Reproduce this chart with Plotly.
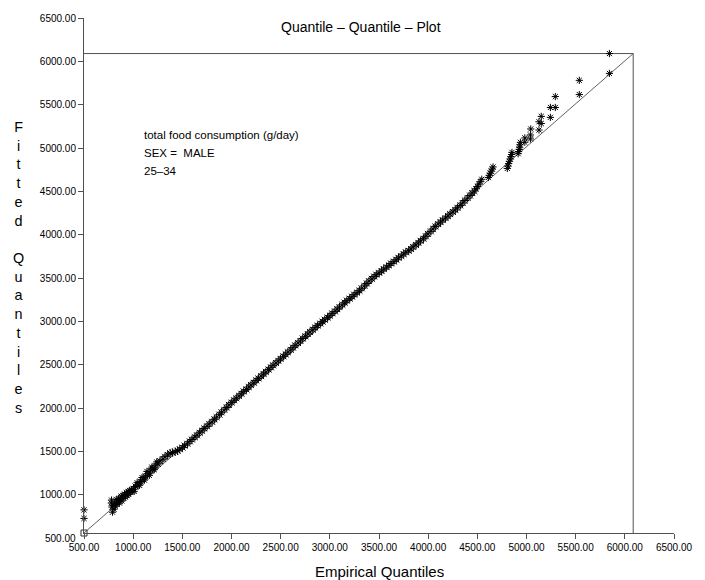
import plotly.graph_objects as go

# Empirical quantiles (x) and fitted quantiles (y), total food consumption in g/day.
# Lowest observations, sparse and scattered around the reference line
low_emp = [500, 500, 778, 780, 784, 790, 795, 805, 812, 820, 828, 835, 845, 852,
           860, 870, 878, 885, 895, 905, 912, 920, 930, 940, 948, 955, 965, 975,
           985, 992, 1010, 1040, 1065, 1090, 1115, 1140, 1165, 1190, 1215, 1240]
low_fit = [827, 728, 905, 940, 860, 800, 880, 835, 905, 870, 945, 890, 925, 960,
           905, 950, 985, 930, 990, 960, 1010, 975, 1025, 990, 1040, 1005, 1050, 1030,
           1062, 1045, 1040, 1140, 1110, 1200, 1170, 1270, 1225, 1320, 1290, 1380]

# Central body of the distribution
body_emp = [1003, 1024, 1051, 1074, 1102, 1125, 1148, 1176, 1199, 1226, 1251, 1273,
            1302, 1324, 1351, 1376, 1399, 1427, 1452, 1474, 1501, 1523, 1552, 1576,
            1598, 1627, 1649, 1676, 1701, 1723, 1752, 1774, 1803, 1826, 1849, 1877,
            1898, 1926, 1951, 1973, 2002, 2026, 2049, 2077, 2101, 2124, 2152, 2175,
            2198, 2227, 2251, 2274, 2302, 2326, 2349, 2377, 2401, 2423, 2452, 2476,
            2499, 2528, 2551, 2573, 2602, 2626, 2648, 2677, 2701, 2724, 2752, 2776,
            2798, 2827, 2851, 2874, 2903, 2926, 2948, 2977, 3001, 3024, 3052, 3076,
            3098, 3127, 3151, 3173, 3202, 3226, 3248, 3277, 3301, 3324, 3352, 3376,
            3398, 3427, 3451, 3473, 3502, 3526, 3548, 3577, 3601, 3623, 3652, 3676,
            3698, 3727, 3751, 3773, 3802, 3826, 3848, 3877, 3901, 3923, 3952, 3976,
            3998, 4027, 4051, 4073, 4102, 4126, 4148, 4177, 4201, 4223, 4252, 4276,
            4298, 4327, 4351, 4373, 4402, 4426, 4448, 4470]
body_fit = [1065, 1096, 1118, 1153, 1180, 1214, 1242, 1276, 1302, 1334, 1358, 1389,
            1412, 1440, 1461, 1481, 1488, 1497, 1509, 1526, 1545, 1567, 1589, 1617,
            1638, 1665, 1687, 1716, 1739, 1766, 1790, 1818, 1842, 1871, 1896, 1925,
            1952, 1981, 2008, 2038, 2064, 2091, 2114, 2142, 2166, 2193, 2216, 2244,
            2268, 2293, 2320, 2343, 2369, 2395, 2418, 2445, 2471, 2494, 2521, 2546,
            2569, 2597, 2621, 2645, 2672, 2698, 2724, 2751, 2775, 2803, 2828, 2855,
            2879, 2905, 2929, 2952, 2975, 2998, 3020, 3044, 3067, 3093, 3116, 3142,
            3166, 3192, 3216, 3240, 3263, 3286, 3309, 3332, 3355, 3382, 3410, 3438,
            3465, 3492, 3518, 3540, 3561, 3582, 3604, 3626, 3647, 3669, 3690, 3712,
            3734, 3755, 3777, 3798, 3815, 3836, 3859, 3882, 3906, 3930, 3954, 3982,
            4010, 4039, 4067, 4096, 4123, 4146, 4169, 4192, 4215, 4239, 4263, 4286,
            4311, 4338, 4366, 4395, 4423, 4452, 4481, 4505]

# Upper tail
tail_emp = [4485, 4500, 4515, 4530, 4545, 4612, 4622, 4632, 4642, 4652, 4660,
            4805, 4812, 4818, 4826, 4834, 4842, 4848, 4852, 4915, 4920, 4926, 4930,
            4934, 4938, 4983, 4983, 5040, 5040, 5043, 5127, 5127, 5150, 5150, 5243,
            5243, 5293, 5293, 5537, 5537, 5843, 5843]
tail_fit = [4530, 4556, 4584, 4612, 4640, 4660, 4686, 4710, 4734, 4758, 4782,
            4765, 4792, 4820, 4848, 4874, 4900, 4926, 4950, 4935, 4960, 4985, 5010,
            5038, 5066, 5067, 5117, 5105, 5151, 5220, 5208, 5303, 5283, 5365, 5354,
            5468, 5468, 5594, 5617, 5781, 5861, 6090]

# Reference diagonal and bounding lines of the quantile range
diag_x = [500, 6085]
diag_y = [560, 6090]
bound_x = [500, 6085, 6085]
bound_y = [6090, 6090, 560]
origin_x = [500]
origin_y = [560]

x_ticks = [500, 1000, 1500, 2000, 2500, 3000, 3500, 4000, 4500, 5000, 5500, 6000, 6500]
y_ticks = [1000, 1500, 2000, 2500, 3000, 3500, 4000, 4500, 5000, 5500, 6000, 6500]
x_range = [500, 6500]
y_range = [560, 6500]

info_lines = ["total food consumption (g/day)", "SEX =  MALE", "25\u201334"]

FONT = "Liberation Sans, Arial, Helvetica, sans-serif"
LINE_COL = "#505050"

fig = go.Figure()

fig.add_trace(go.Scatter(x=diag_x, y=diag_y, mode="lines",
                         line=dict(color="#606060", width=1), hoverinfo="skip",
                         showlegend=False))
fig.add_trace(go.Scatter(x=bound_x, y=bound_y, mode="lines",
                         line=dict(color=LINE_COL, width=1), hoverinfo="skip",
                         showlegend=False, cliponaxis=False))
fig.add_trace(go.Scatter(x=origin_x, y=origin_y, mode="markers",
                         marker=dict(symbol="square-open", size=6, color="#303030",
                                     line=dict(color="#303030", width=1)),
                         showlegend=False, cliponaxis=False))

# sparse tails use slightly smaller stars than the dense central band
star = dict(symbol="asterisk-open", color="black", line=dict(color="black", width=1))
for xs, ys, sz in ((low_emp, low_fit, 6), (body_emp, body_fit, 7), (tail_emp, tail_fit, 6)):
    fig.add_trace(go.Scatter(x=xs, y=ys, mode="markers",
                             marker=dict(size=sz, **star),
                             showlegend=False, cliponaxis=False))

axis_common = dict(showline=True, linecolor=LINE_COL, linewidth=1,
                   ticks="outside", ticklen=5, tickcolor=LINE_COL, tickwidth=1,
                   showgrid=False, zeroline=False, tickformat=".2f",
                   tickfont=dict(family=FONT, size=10, color="black"))

fig.update_xaxes(range=x_range, tickvals=x_ticks, **axis_common)
fig.update_yaxes(range=y_range, tickvals=y_ticks, **axis_common)

# plot area spans 84..684 px horizontally and 15..533 px vertically
plot_h = 580 - 15 - 47
annotations = [
    dict(text="Quantile \u2013 Quantile \u2013 Plot", xref="paper", yref="paper",
         x=0.47, y=1 - 9 / plot_h, xanchor="center", yanchor="middle",
         showarrow=False, font=dict(family=FONT, size=14, color="black")),
    dict(text="Empirical Quantiles", xref="paper", yref="paper",
         x=0.5, y=-39 / plot_h, xanchor="center", yanchor="middle",
         showarrow=False, font=dict(family=FONT, size=15, color="black")),
    dict(text="<br>".join(list("Fitted") + ["\u00a0"] + list("Quantiles")),
         xref="paper", yref="paper", x=-67 / 600, y=0.515,
         xanchor="center", yanchor="middle", align="center",
         showarrow=False, font=dict(family=FONT, size=14.4, color="black")),
    dict(text="500.00", xref="paper", yref="paper",
         x=0, y=(500 - y_range[0]) / (y_range[1] - y_range[0]),
         xanchor="right", yanchor="middle", xshift=-6, showarrow=False,
         font=dict(family=FONT, size=10, color="black")),
]
for i, line in enumerate(info_lines):
    annotations.append(dict(text=line, xref="paper", yref="paper",
                            x=59 / 600, y=(400.5 - 18 * i) / plot_h,
                            xanchor="left", yanchor="middle", showarrow=False,
                            font=dict(family=FONT, size=11.5, color="black")))

fig.update_layout(width=705, height=580,
                  margin=dict(l=84, r=21, t=15, b=47),
                  paper_bgcolor="white", plot_bgcolor="white",
                  annotations=annotations, showlegend=False)

fig.write_html("out.html")
